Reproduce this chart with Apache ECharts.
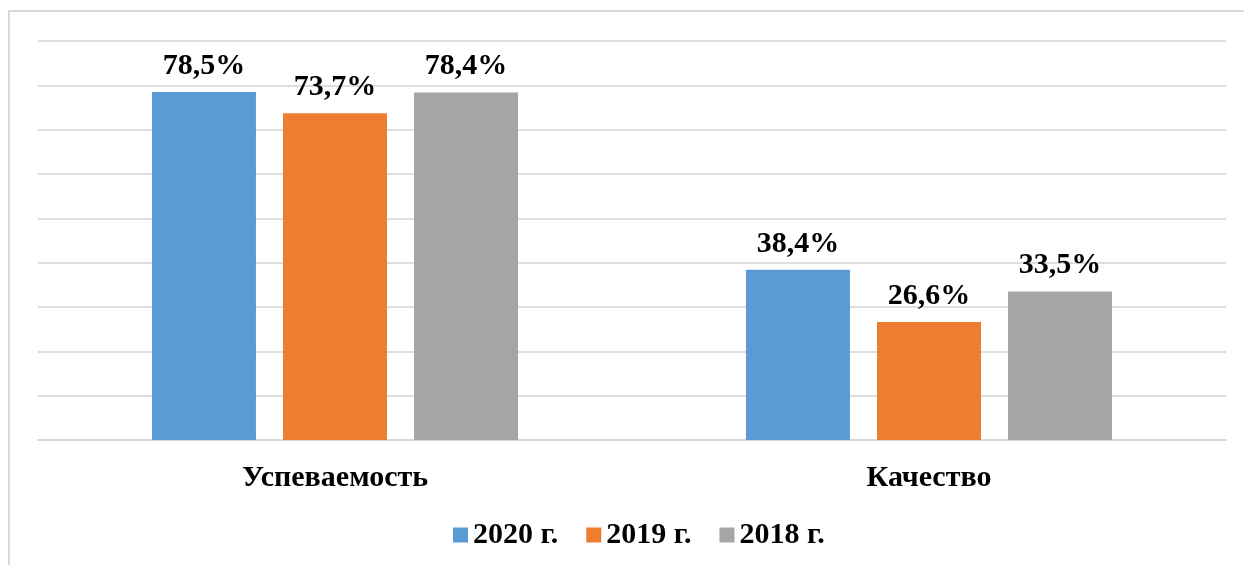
<!DOCTYPE html>
<html><head><meta charset="utf-8">
<script src="https://cdn.jsdelivr.net/npm/echarts@6/dist/echarts.min.js"></script>
<style>html,body{margin:0;padding:0;background:#fff}#c{width:1244px;height:565px}</style>
</head><body><div id="c"></div>
<script>
const categories = ['Успеваемость', 'Качество'];
const seriesNames = ['2020 г.', '2019 г.', '2018 г.'];
const v2020 = [78.5, 38.4];
const v2019 = [73.7, 26.6];
const v2018 = [78.4, 33.5];
const colors = ['#5B9BD5', '#ED7D31', '#A5A5A5'];
const values = [v2020, v2019, v2018];
const font = "'Liberation Serif', 'Times New Roman', serif";
const chart = echarts.init(document.getElementById('c'));
chart.setOption({
  animation: false,
  backgroundColor: '#fff',
  grid: {left: 38, right: 18, top: 41, bottom: 125, containLabel: false},
  legend: {
    bottom: 10, left: 448, itemWidth: 15, itemHeight: 15, itemGap: 28,
    icon: 'rect',
    textStyle: {fontFamily: font, fontWeight: 'bold', fontSize: 30, color: '#000'},
    data: seriesNames
  },
  xAxis: {
    type: 'category', data: categories,
    axisLine: {lineStyle: {color: '#d9d9d9', width: 2}},
    axisTick: {show: false},
    axisLabel: {fontFamily: font, fontWeight: 'bold', fontSize: 30, color: '#000', margin: 23}
  },
  yAxis: {
    type: 'value', min: 0, max: 90, interval: 10,
    axisLabel: {show: false}, axisLine: {show: false}, axisTick: {show: false},
    splitLine: {lineStyle: {color: '#dedede', width: 2}}
  },
  graphic: [
    {type: 'polyline', shape: {points: [[9, 565], [9, 11], [1244, 11]]}, style: {stroke: '#d9d9d9', lineWidth: 2, fill: null}}
  ],
  series: values.map((v, i) => ({
    name: seriesNames[i], type: 'bar', data: v,
    barWidth: 104, barGap: '26%',
    itemStyle: {color: colors[i]},
    label: {
      show: true, position: 'top', distance: 11,
      formatter: p => String(p.value).replace('.', ',') + '%',
      fontFamily: font, fontWeight: 'bold', fontSize: 30, color: '#000'
    }
  }))
});
</script></body></html>
